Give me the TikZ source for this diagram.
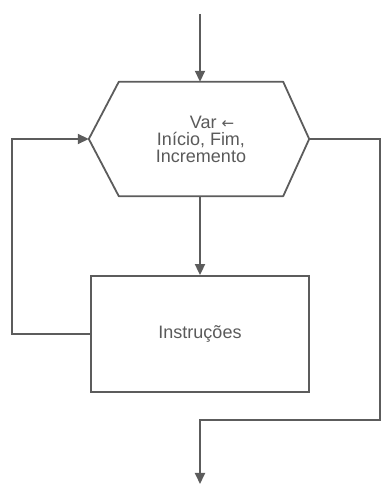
\documentclass[tikz,border=0pt]{standalone}
\usepackage{fontspec}
\setmainfont{Liberation Sans}
\newfontfamily\arrowfont{DejaVu Sans}
\usetikzlibrary{arrows.meta}
\definecolor{linegray}{HTML}{5C5C5C}
\definecolor{textgray}{HTML}{5A5A5A}
\begin{document}
\begin{tikzpicture}[x=1pt,y=1pt,
  flow/.style={draw=linegray,line width=1.8pt},
  tip/.style={-{Triangle[length=11pt,width=10pt]}},
  label/.style={text=textgray,font=\fontsize{18}{17}\selectfont,align=center}]
\useasboundingbox (0,0) rectangle (381,485);
% loop head (hexagon) and body
\node[label,minimum width=164pt,minimum height=114pt,inner sep=0pt] (hex) at (201,346)
  {\hspace*{22pt}Var {\arrowfont\fontsize{15}{15}\selectfont ←}\\Início, Fim,\\Incremento};
\draw[flow,line join=round] (hex.north west) -- (hex.north east) -- ([xshift=26pt]hex.east)
  -- (hex.south east) -- (hex.south west) -- ([xshift=-30pt]hex.west) -- cycle;
\coordinate (hexL) at ([xshift=-30pt]hex.west);
\coordinate (hexR) at ([xshift=26pt]hex.east);
\node[flow,label,minimum width=218pt,minimum height=116pt] (body) at (200,151) {Instruções};
% connectors
\coordinate (start) at (200,471);
\coordinate (out) at (200,1);
\draw[flow,tip] (start) -- (start |- hex.north);
\draw[flow,tip] (body.north |- hex.south) -- (body.north);
\draw[flow,tip] (body.west) -| (12,346) -- (hexL);
\draw[flow,tip] (hexR) -- (380,346) |- (200,65) -- (out);
\end{tikzpicture}
\end{document}
